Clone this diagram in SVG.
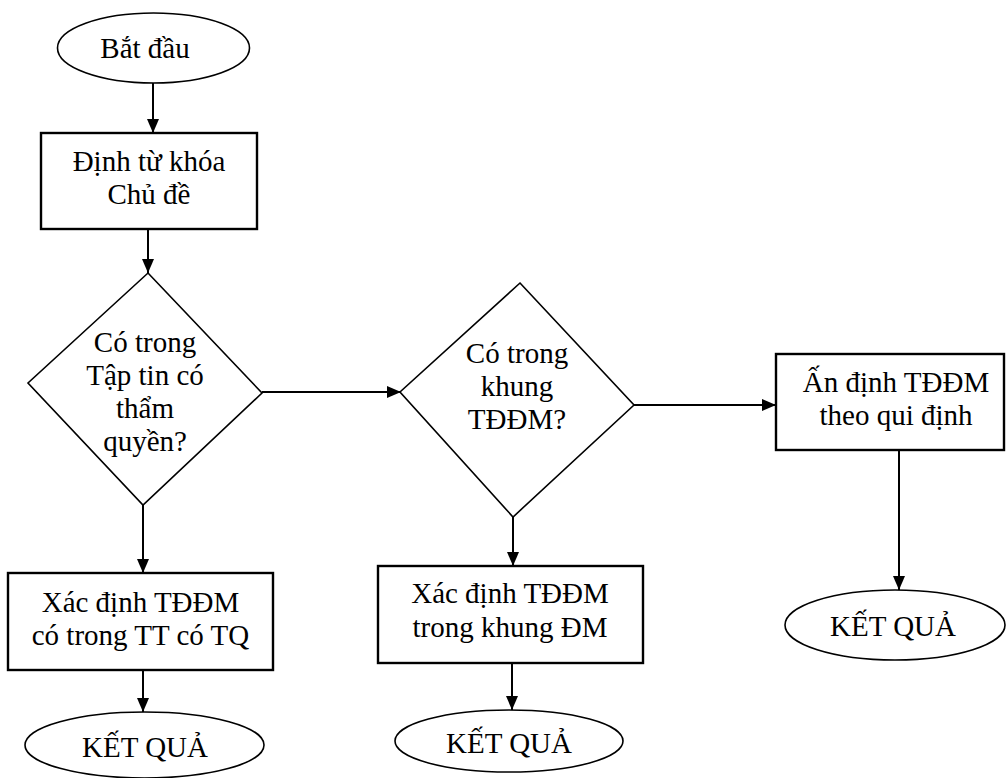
<svg xmlns="http://www.w3.org/2000/svg" width="1006" height="778" viewBox="0 0 1006 778">
<defs>
<marker id="arr" markerUnits="userSpaceOnUse" markerWidth="14" markerHeight="14" viewBox="0 0 14 14" refX="14" refY="7" orient="auto">
<path d="M0,1 L14,7 L0,13 Z" fill="#000"/>
</marker>
</defs>
<style>
.sh{fill:#fff;stroke:#000;stroke-width:1.6}
.bx{fill:#fff;stroke:#000;stroke-width:2.4}
.t{font-family:"Liberation Serif","Times New Roman",serif;font-size:29px;fill:#000;text-anchor:middle}
.c{fill:none;stroke:#000;stroke-width:2;marker-end:url(#arr)}
</style>
<rect width="1006" height="778" fill="#fff"/>
<g id="connectors">
<line class="c" x1="153" y1="83" x2="153" y2="133"/>
<line class="c" x1="148" y1="229" x2="148" y2="273"/>
<line class="c" x1="262" y1="392" x2="401" y2="392"/>
<line class="c" x1="634" y1="405" x2="776" y2="405"/>
<line class="c" x1="143" y1="505" x2="143" y2="573"/>
<line class="c" x1="513" y1="517" x2="513" y2="566"/>
<line class="c" x1="899" y1="448" x2="899" y2="590"/>
<line class="c" x1="143" y1="665" x2="143" y2="712"/>
<line class="c" x1="512" y1="663" x2="512" y2="710"/>
</g>
<g id="start">
<ellipse class="sh" cx="153.5" cy="48" rx="96" ry="35"/>
<text class="t" x="145" y="58">Bắt đầu</text>
</g>
<g id="keyword">
<rect class="bx" x="41" y="133" width="216" height="96"/>
<text class="t" x="149" y="171">Định từ khóa</text>
<text class="t" x="149" y="204">Chủ đề</text>
</g>
<g id="decision1">
<polygon class="sh" points="148,273 262,393 143,505 28,383"/>
<text class="t" x="145" y="352">Có trong</text>
<text class="t" x="145" y="385">Tập tin có</text>
<text class="t" x="145" y="418">thẩm</text>
<text class="t" x="145" y="451">quyền?</text>
</g>
<g id="decision2">
<polygon class="sh" points="520,283 634,405 513,517 400,392"/>
<text class="t" x="517" y="363">Có trong</text>
<text class="t" x="517" y="396">khung</text>
<text class="t" x="517" y="429">TĐĐM?</text>
</g>
<g id="assign">
<rect class="bx" x="776" y="354" width="228" height="96"/>
<text class="t" x="896" y="392">Ấn định TĐĐM</text>
<text class="t" x="896" y="425">theo qui định</text>
</g>
<g id="determine1">
<rect class="bx" x="8" y="573" width="265" height="97"/>
<text class="t" x="140.5" y="612">Xác định TĐĐM</text>
<text class="t" x="140.5" y="645">có trong TT có TQ</text>
</g>
<g id="determine2">
<rect class="bx" x="378" y="566" width="265" height="97"/>
<text class="t" x="510" y="603">Xác định TĐĐM</text>
<text class="t" x="510" y="637">trong khung ĐM</text>
</g>
<g id="result1">
<ellipse class="sh" cx="144.5" cy="745" rx="119.5" ry="33"/>
<text class="t" x="145" y="757">KẾT QUẢ</text>
</g>
<g id="result2">
<ellipse class="sh" cx="509" cy="741" rx="114" ry="31"/>
<text class="t" x="509" y="753">KẾT QUẢ</text>
</g>
<g id="result3">
<ellipse class="sh" cx="895" cy="625" rx="110" ry="35"/>
<text class="t" x="893" y="636">KẾT QUẢ</text>
</g>
</svg>
